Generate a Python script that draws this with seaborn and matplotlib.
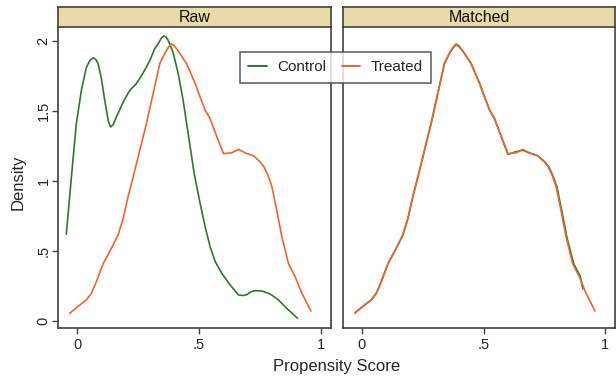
import numpy as np
import pandas as pd
import matplotlib
matplotlib.use("Agg")
import matplotlib.pyplot as plt
from matplotlib.lines import Line2D
import seaborn as sns

# Density curves (propensity score vs density)
raw_control_x = [-0.044, -0.023, -0.003, 0.018, 0.038, 0.052, 0.066, 0.076, 0.086, 0.100,
                 0.113, 0.128, 0.137, 0.147, 0.161, 0.189, 0.216, 0.243, 0.270, 0.298,
                 0.318, 0.332, 0.345, 0.355, 0.364, 0.373, 0.393, 0.414, 0.434, 0.455,
                 0.480, 0.504, 0.525, 0.545, 0.566, 0.593, 0.627, 0.661, 0.680, 0.695,
                 0.712, 0.730, 0.757, 0.791, 0.825, 0.859, 0.903]
raw_control_y = [0.62, 1.03, 1.41, 1.65, 1.81, 1.86, 1.88, 1.87, 1.84, 1.73,
                 1.58, 1.43, 1.386, 1.40, 1.457, 1.564, 1.648, 1.695, 1.77, 1.86,
                 1.945, 1.98, 2.02, 2.036, 2.03, 2.005, 1.92, 1.77, 1.58, 1.34,
                 1.05, 0.84, 0.67, 0.53, 0.424, 0.34, 0.257, 0.186, 0.182, 0.188,
                 0.208, 0.217, 0.214, 0.193, 0.15, 0.09, 0.019]

treated_x = [-0.030, 0.011, 0.038, 0.059, 0.079, 0.107, 0.141, 0.168, 0.189, 0.209,
             0.230, 0.257, 0.284, 0.311, 0.339, 0.359, 0.374, 0.387, 0.399, 0.414,
             0.448, 0.463, 0.484, 0.504, 0.525, 0.545, 0.573, 0.600, 0.634, 0.661,
             0.689, 0.723, 0.750, 0.766, 0.782, 0.798, 0.818, 0.839, 0.866, 0.893,
             0.921, 0.958]
treated_y = [0.055, 0.114, 0.15, 0.198, 0.28, 0.41, 0.52, 0.614, 0.733, 0.888,
             1.03, 1.22, 1.41, 1.62, 1.84, 1.91, 1.955, 1.98, 1.965, 1.93,
             1.84, 1.78, 1.695, 1.60, 1.505, 1.445, 1.314, 1.195, 1.202, 1.226,
             1.20, 1.18, 1.136, 1.10, 1.04, 0.96, 0.79, 0.60, 0.41, 0.317,
             0.198, 0.071]

matched_control_x = [-0.028, 0.011, 0.038, 0.059, 0.079, 0.107, 0.141, 0.168, 0.189, 0.209,
                     0.230, 0.257, 0.284, 0.311, 0.339, 0.359, 0.374, 0.387, 0.399, 0.414,
                     0.448, 0.463, 0.484, 0.504, 0.525, 0.545, 0.573, 0.600, 0.634, 0.661,
                     0.689, 0.723, 0.752, 0.768, 0.784, 0.801, 0.821, 0.842, 0.870, 0.897,
                     0.908]
matched_control_y = [0.06, 0.115, 0.15, 0.198, 0.28, 0.41, 0.52, 0.614, 0.733, 0.888,
                     1.03, 1.22, 1.41, 1.62, 1.84, 1.91, 1.95, 1.975, 1.96, 1.93,
                     1.84, 1.78, 1.695, 1.60, 1.505, 1.445, 1.314, 1.19, 1.21, 1.22,
                     1.20, 1.18, 1.136, 1.10, 1.04, 0.96, 0.79, 0.60, 0.41, 0.32,
                     0.23]

panels = ["Raw", "Matched"]
groups = ["Control", "Treated"]
y_ticks = [0, 0.5, 1, 1.5, 2]
y_labels = ["0", ".5", "1", "1.5", "2"]
x_ticks = [0, 0.5, 1]
x_labels = ["0", ".5", "1"]

frames = [
    pd.DataFrame({"panel": "Raw", "group": "Control", "x": raw_control_x, "y": raw_control_y}),
    pd.DataFrame({"panel": "Raw", "group": "Treated", "x": treated_x, "y": treated_y}),
    pd.DataFrame({"panel": "Matched", "group": "Control", "x": matched_control_x, "y": matched_control_y}),
    pd.DataFrame({"panel": "Matched", "group": "Treated", "x": treated_x, "y": treated_y}),
]
df = pd.concat(frames, ignore_index=True)

sns.set_style("white")
plt.rcParams["font.family"] = ["Liberation Sans", "DejaVu Sans"]

palette = {"Control": "#2a7a2a", "Treated": "#f2632d"}
header_color = "#e8dba6"
edge = "#404040"

fig = plt.figure(figsize=(6.16, 3.83), dpi=100)
W, H = 616, 383
boxes = [(58, 331), (343, 615)]
top, bottom = 27, 328

for i, (panel, (x0, x1)) in enumerate(zip(panels, boxes)):
    ax = fig.add_axes([x0 / W, (H - bottom) / H, (x1 - x0) / W, (bottom - top) / H])
    sub = df[df["panel"] == panel]
    sns.lineplot(data=sub, x="x", y="y", hue="group", hue_order=groups, palette=palette,
                 estimator=None, sort=False, linewidth=1.2, legend=False, ax=ax)
    ax.set_xlim(-0.078, 1.04)
    ax.set_ylim(-0.05, 2.1)
    ax.set_xticks(x_ticks)
    ax.set_xticklabels(x_labels)
    ax.set_xlabel("")
    ax.set_ylabel("")
    ax.tick_params(axis="x", length=4.3, width=1, color=edge, labelsize=10.5, pad=3,
                   direction="out", bottom=True)
    if i == 0:
        ax.set_yticks(y_ticks)
        ax.set_yticklabels(y_labels, rotation=90, va="center")
        ax.tick_params(axis="y", length=4.3, width=1, color=edge, labelsize=10.5, pad=1,
                       direction="out", left=True)
    else:
        ax.set_yticks([])
    for s in ax.spines.values():
        s.set_color(edge)
        s.set_linewidth(1.2)
    ax.spines["top"].set_visible(False)

    hax = fig.add_axes([x0 / W, (H - top) / H, (x1 - x0) / W, 20 / H])
    hax.set_facecolor(header_color)
    hax.set_xticks([])
    hax.set_yticks([])
    for s in hax.spines.values():
        s.set_color(edge)
        s.set_linewidth(1.2)
    hax.text(0.5, 0.45, panel, ha="center", va="center", fontsize=11.5, color="#111111",
             transform=hax.transAxes)

fig.text(336.5 / W, 1 - 366 / H, "Propensity Score", ha="center", va="center", fontsize=12)
fig.text(18 / W, 1 - 182 / H, "Density", ha="center", va="center", rotation=90, fontsize=12)

handles = [Line2D([0], [0], color=palette[g], lw=1.4) for g in groups]
leg = fig.legend(handles, groups, ncol=2, loc="upper left",
                 bbox_to_anchor=(240 / W, 1 - 52 / H), frameon=True, fancybox=False,
                 fontsize=11, handlelength=1.2, columnspacing=1.0, borderpad=0.55,
                 borderaxespad=0, handletextpad=0.7)
leg.get_frame().set_edgecolor(edge)
leg.get_frame().set_linewidth(1.2)
leg.set_zorder(10)

fig.savefig("out.png", dpi=100)
